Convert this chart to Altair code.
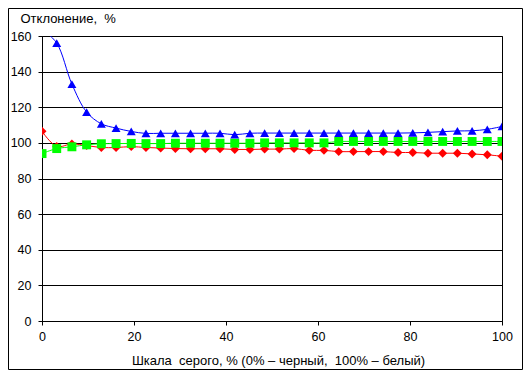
import altair as alt
import pandas as pd

x_vals = [0, 3.2, 6.5, 9.7, 12.9, 16.1, 19.4, 22.6, 25.8, 29.0, 32.3, 35.5, 38.7, 41.9, 45.2, 48.4,
          51.6, 54.8, 58.1, 61.3, 64.5, 67.7, 71.0, 74.2, 77.4, 80.6, 83.9, 87.1, 90.3, 93.5, 96.8, 100]

blue_vals = [164, 156, 133, 117.3, 110.7, 108.3, 106.4, 105.3, 105.4, 105.4, 105.4, 105.4, 105.4, 104.6, 105.4, 105.5,
             105.5, 105.5, 105.5, 105.5, 105.5, 105.5, 105.5, 105.5, 105.5, 105.6, 105.9, 106.3, 106.7, 106.8, 107.6, 109.2]

red_vals = [106.5, 98.0, 99.4, 98.5, 97.4, 97.4, 97.9, 97.4, 97.1, 96.8, 96.7, 96.7, 96.7, 96.3, 96.3, 96.5,
            96.5, 96.8, 95.8, 95.8, 95.1, 95.1, 95.1, 95.1, 94.6, 94.6, 94.2, 94.2, 94.2, 93.8, 93.3, 92.5]

green_vals = [94.0, 96.8, 97.8, 98.9, 99.5, 99.6, 99.7, 99.6, 99.6, 99.8, 99.8, 99.8, 99.8, 99.8, 99.8, 100.0,
              100.0, 100.0, 100.0, 100.0, 100.8, 100.8, 100.8, 100.8, 100.8, 100.8, 100.8, 100.8, 100.8, 100.8, 100.8, 100.8]

series_names = ["red", "green", "blue"]
series_colors = ["#ff0000", "#00ff00", "#0000ff"]
series_shapes = ["diamond", "square", "triangle-up"]

y_ticks = [0, 20, 40, 60, 80, 100, 120, 140, 160]
x_ticks = [0, 20, 40, 60, 80, 100]

NB = "\u00a0"
x_title = f"Шкала{NB}{NB}серого,{NB}%{NB}(0%{NB}–{NB}черный,{NB}{NB}100%{NB}–{NB}белый)"
y_title = f"Отклонение,{NB}{NB}%"

rows = []
for name, vals in zip(series_names, [red_vals, green_vals, blue_vals]):
    for xv, yv in zip(x_vals, vals):
        rows.append({"x": xv, "y": yv, "s": name, "order": series_names.index(name)})
df = pd.DataFrame(rows)

FONT = "Liberation Sans"

xenc = alt.X("x:Q", scale=alt.Scale(domain=[0, 100], nice=False),
             axis=alt.Axis(values=x_ticks, grid=False, tickSize=4, labelPadding=5,
                           title=x_title,
                           titleX=236, titleY=43, titleBaseline="alphabetic",
                           titleFontWeight="normal", titleFont=FONT, titleFontSize=13,
                           labelFlush=False))
yenc = alt.Y("y:Q", scale=alt.Scale(domain=[0, 160], nice=False),
             axis=alt.Axis(values=y_ticks, grid=True, gridColor="black", gridOpacity=1, gridWidth=1,
                           tickSize=4, labelPadding=7,
                           title=y_title, titleAngle=0, titleX=-22, titleY=-14,
                           titleAlign="left", titleBaseline="alphabetic",
                           titleFontWeight="normal", titleFont=FONT, titleFontSize=13))
color = alt.Color("s:N", scale=alt.Scale(domain=series_names, range=series_colors), legend=None)
shape = alt.Shape("s:N", scale=alt.Scale(domain=series_names, range=series_shapes), legend=None)

base = alt.Chart(df)
lines = base.mark_line(strokeWidth=1, interpolate="catmull-rom", clip=True).encode(
    x=xenc, y=yenc, color=color, detail="s:N")
points = base.mark_point(filled=True, opacity=1, size=80, clip=True).encode(
    x=xenc, y=yenc, color=color, shape=shape, order="order:Q")

frame = alt.Chart(pd.DataFrame({"a": [0]})).mark_rect(
    fillOpacity=0, stroke="black", strokeWidth=1, clip=False).encode(
    x=alt.value(-33.5), x2=alt.value(480.5), y=alt.value(-27.5), y2=alt.value(333.5))

chart = alt.layer(lines, points, frame).properties(
    width=460, height=285,
    autosize=alt.AutoSizeParams(type="none"),
    padding={"left": 34, "top": 28, "right": 21, "bottom": 49},
    background="white",
).configure_view(stroke="black", strokeWidth=1).configure_axis(
    domainColor="black", tickColor="black", labelColor="black", titleColor="black",
    labelFont=FONT, labelFontSize=12.5, domainWidth=1, tickWidth=1
)

chart.save("out.html", embed_options={"renderer": "svg", "actions": False})
